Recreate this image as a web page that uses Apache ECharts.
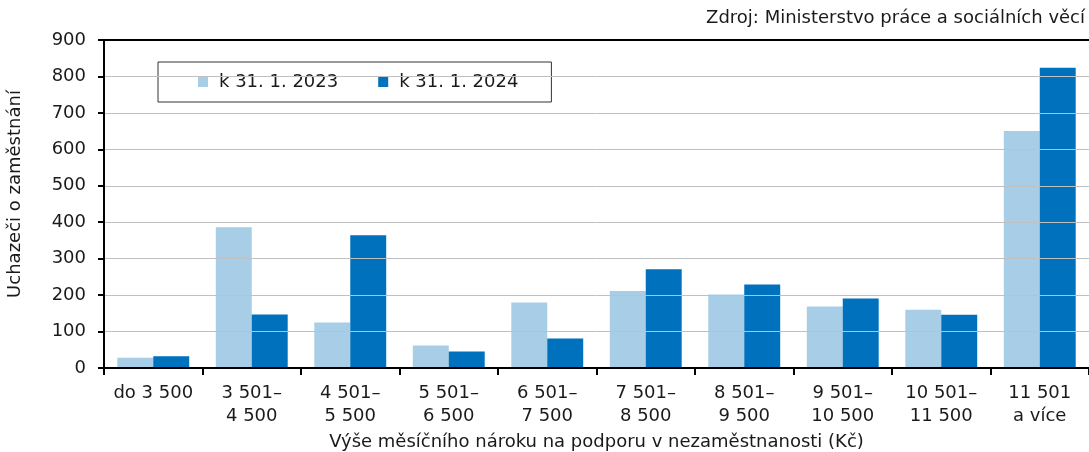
<!DOCTYPE html>
<html>
<head>
<meta charset="utf-8">
<script src="https://cdn.jsdelivr.net/npm/echarts@6/dist/echarts.min.js"></script>
<style>
  html, body { margin: 0; padding: 0; background: #fff; }
  #chart { width: 1089px; height: 452px; }
</style>
</head>
<body>
<div id="chart"></div>
<script>
// kategorie – výše měsíčního nároku (Kč)
const categories = ['do 3 500', '3 501–\n4 500', '4 501–\n5 500', '5 501–\n6 500', '6 501–\n7 500',
  '7 501–\n8 500', '8 501–\n9 500', '9 501–\n10 500', '10 501–\n11 500', '11 501\na více'];
const values2023 = [28, 386, 125, 62, 180, 211, 202, 169, 160, 650];
const values2024 = [32, 147, 364, 45, 81, 271, 229, 191, 146, 824];
const seriesNames = ['k 31. 1. 2023', 'k 31. 1. 2024'];
const yMin = 0, yMax = 900, yStep = 100;

const font = 'DejaVu Sans';
const chart = echarts.init(document.getElementById('chart'));

const option = {
  animation: false,
  color: ['#a7cde7', '#0071bd'],
  textStyle: { fontFamily: font, color: '#1a1a1a' },
  title: {
    text: 'Zdroj: Ministerstvo práce a sociálních věcí',
    right: 4,
    top: 9,
    padding: 0,
    textStyle: { fontFamily: font, fontSize: 18, fontWeight: 'normal', color: '#1a1a1a' }
  },
  legend: {
    left: 158,
    top: 62,
    padding: [11, 33, 11, 40],
    itemGap: 40,
    itemWidth: 10,
    itemHeight: 10,
    borderColor: '#333',
    borderWidth: 1,
    borderRadius: 0,
    icon: 'rect',
    textStyle: { fontFamily: font, fontSize: 18, color: '#1a1a1a', padding: [0, 0, 0, 6] },
    data: seriesNames
  },
  grid: { left: 104, right: 0, top: 40, bottom: 84, containLabel: false, outerBoundsMode: 'none' },
  xAxis: [{
    type: 'category',
    z: 5,
    data: categories,
    axisLine: { lineStyle: { color: '#000', width: 2 } },
    axisTick: { show: true, length: 7, interval: 0, lineStyle: { color: '#000', width: 2 } },
    axisLabel: { interval: 0, margin: 14, fontFamily: font, fontSize: 18, lineHeight: 23, color: '#1a1a1a' },
    name: 'Výše měsíčního nároku na podporu v nezaměstnanosti (Kč)',
    nameLocation: 'middle',
    nameGap: 61,
    nameTextStyle: { fontFamily: font, fontSize: 18, color: '#1a1a1a' }
  }, {
    // horní okraj grafu
    type: 'category',
    position: 'top',
    z: 5,
    data: categories,
    axisLine: { lineStyle: { color: '#000', width: 2 } },
    axisTick: { show: false },
    axisLabel: { show: false }
  }],
  yAxis: {
    type: 'value',
    z: 5,
    min: yMin,
    max: yMax,
    interval: yStep,
    axisLine: { show: true, lineStyle: { color: '#000', width: 2 } },
    axisTick: { show: true, length: 6, lineStyle: { color: '#000', width: 2 } },
    axisLabel: { margin: 18, fontFamily: font, fontSize: 18, color: '#1a1a1a' },
    splitLine: { lineStyle: { color: '#c0c0c0', width: 1 } },
    name: 'Uchazeči o zaměstnání',
    nameLocation: 'middle',
    nameGap: 80,
    nameTextStyle: { fontFamily: font, fontSize: 18, color: '#1a1a1a', padding: [0, 0, 0, 20] }
  },
  series: [
    { name: seriesNames[0], type: 'bar', data: values2023, barGap: '0%', barCategoryGap: '27%' },
    { name: seriesNames[1], type: 'bar', data: values2024, barGap: '0%', barCategoryGap: '27%' }
  ]
};

chart.setOption(option);
</script>
</body>
</html>
